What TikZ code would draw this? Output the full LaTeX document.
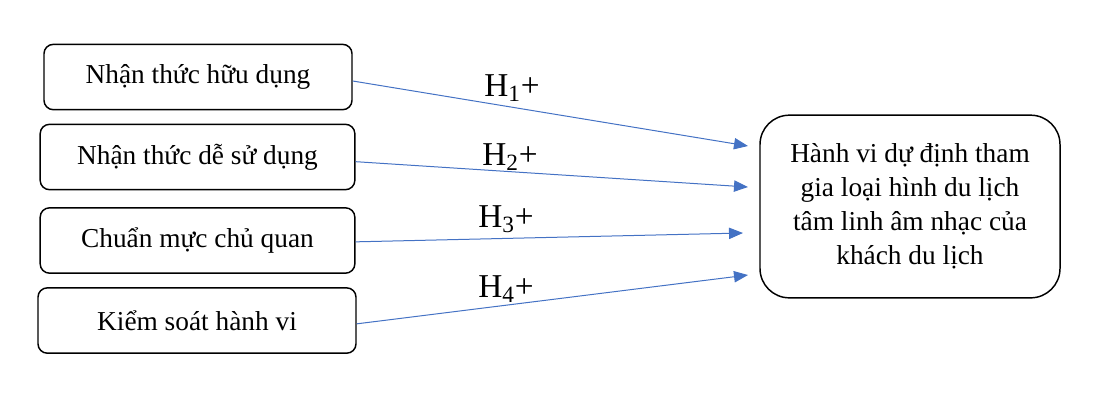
\documentclass[tikz,border=0pt]{standalone}
\usepackage{fontspec}
\setmainfont{Liberation Serif}
\usepackage{tikz}
\usetikzlibrary{arrows.meta}

\begin{document}
\begin{tikzpicture}[x=0.75pt,y=-0.75pt,>={Triangle[length=10.5pt,width=8.5pt]},
  factor/.style={draw,line width=1.1pt,rounded corners=7pt,align=center,minimum height=49pt,font=\fontsize{20.5}{25}\selectfont},
  target/.style={draw,line width=1.1pt,rounded corners=22pt,align=center,minimum width=225pt,minimum height=137pt,font=\fontsize{20.5}{25.5}\selectfont},
  hyp/.style={font=\fontsize{25}{30}\selectfont,inner sep=0pt},
  link/.style={->,draw={rgb,255:red,68;green,114;blue,196},line width=0.75pt}]
  \useasboundingbox (0,0) rectangle (1098,405);
  \node[factor,minimum width=231pt] (pu) at (198,77) {Nhận thức hữu dụng};
  \node[factor,minimum width=236pt] (peou) at (197.5,157) {Nhận thức dễ sử dụng};
  \node[factor,minimum width=236pt] (sn) at (197.5,240.5) {Chuẩn mực chủ quan};
  \node[factor,minimum width=238.5pt] (pbc) at (197,320.5) {Kiểm soát hành vi};
  \node[target] (bi) at (910,206.5) {\raisebox{4pt}{\begin{tabular}{@{}c@{}}Hành vi dự định tham\\gia loại hình du lịch\\tâm linh âm nhạc của\\khách du lịch\end{tabular}}};
  % arrow ends in front of the target box
  \coordinate (e1) at (748,146);
  \coordinate (e2) at (748,187);
  \coordinate (e3) at (743,233);
  \coordinate (e4) at (748,275);
  \draw[link] ([yshift=-3pt]pu.east) -- (e1);
  \draw[link] ([yshift=-3.5pt]peou.east) -- (e2);
  \draw[link] ([yshift=-1pt]sn.east) -- (e3);
  \draw[link] ([yshift=-2.5pt]pbc.east) -- (e4);
  \node[hyp] (h1) at (512,88) {H\textsubscript{1}+};
  \node[hyp] (h2) at (510,157) {H\textsubscript{2}+};
  \node[hyp] (h3) at (506,219) {H\textsubscript{3}+};
  \node[hyp] (h4) at (506,289) {H\textsubscript{4}+};
\end{tikzpicture}
\end{document}
